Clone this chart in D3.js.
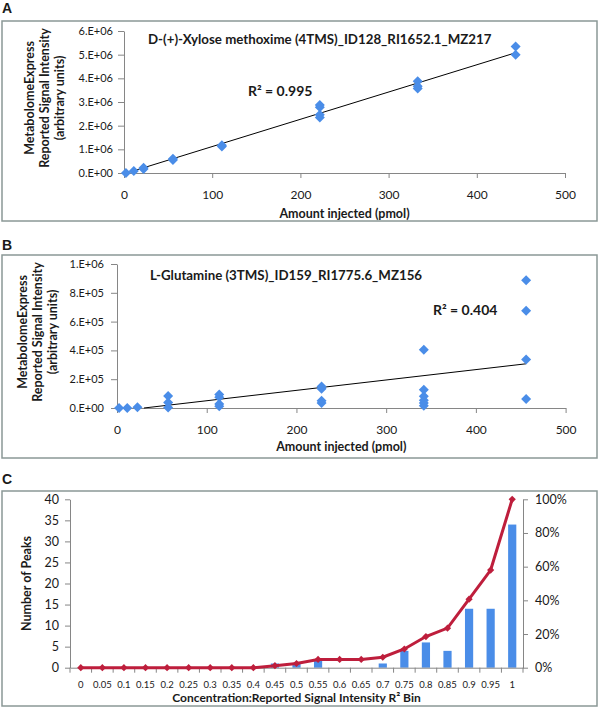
<!DOCTYPE html>
<html>
<head>
<meta charset="utf-8">
<script src="https://cdn.jsdelivr.net/npm/d3@7"></script>
<style>
  body { margin: 0; background: #fff; }
  svg { display: block; }
  text { font-family: Lato, "Open Sans", sans-serif; fill: #1a1a1a; }
</style>
</head>
<body>
<script>
// ---- Panel A data (D-(+)-Xylose methoxime) ----
var xyloseX = [2.2, 11.1, 22.2, 22.2, 55.5, 55.5, 111, 111, 222, 222, 222, 222, 333, 333, 333, 444, 444];
var xyloseY = [0, 0.08e6, 0.17e6, 0.22e6, 0.55e6, 0.6e6, 1.12e6, 1.17e6, 2.35e6, 2.46e6, 2.78e6, 2.87e6, 3.57e6, 3.67e6, 3.88e6, 5.0e6, 5.34e6];
var xyloseTrendX = [3, 444];
var xyloseTrendY = [0, 5.08e6];
var xyloseTicks = [0, 1e6, 2e6, 3e6, 4e6, 5e6, 6e6];

// ---- Panel B data (L-Glutamine) ----
var glnX = [2.3, 11.4, 22.8, 57, 57, 57, 114, 114, 114, 114, 228, 228, 228, 228, 342, 342, 342, 342, 342, 342, 456, 456, 456, 456];
var glnY = [0, 0, 0.005e6, 0.003e6, 0.038e6, 0.084e6, 0.012e6, 0.028e6, 0.074e6, 0.093e6, 0.035e6, 0.051e6, 0.134e6, 0.15e6, 0.016e6, 0.035e6, 0.053e6, 0.081e6, 0.127e6, 0.405e6, 0.062e6, 0.336e6, 0.676e6, 0.887e6];
var glnTrendX = [30, 456];
var glnTrendY = [0, 0.307e6];
var glnTicks = [0, 2e5, 4e5, 6e5, 8e5, 1e6];

var amountTicks = [0, 100, 200, 300, 400, 500];

// ---- Panel C data (R2 histogram) ----
var bins = ["0", "0.05", "0.1", "0.15", "0.2", "0.25", "0.3", "0.35", "0.4", "0.45", "0.5",
            "0.55", "0.6", "0.65", "0.7", "0.75", "0.8", "0.85", "0.9", "0.95", "1"];
var peaks = [0, 0, 0, 0, 0, 0, 0, 0, 0, 1, 1, 2, 0, 0, 1, 4, 6, 4, 14, 14, 34];
var cumulativePct = [0, 0, 0, 0, 0, 0, 0, 0, 0, 1.2, 2.5, 4.9, 4.9, 4.9, 6.2, 11.1, 18.5, 23.5, 40.7, 58.0, 100];
var peakTicks = [0, 5, 10, 15, 20, 25, 30, 35, 40];
var pctTicks = [0, 20, 40, 60, 80, 100];

var blue = "#4a8de8";
var red = "#be1e3c";
var axisGrey = "#868686";
var boxGrey = "#8b9896";

var svg = d3.select("body")
        .append("svg")
        .attr("width", 600)
        .attr("height", 708);

// Excel style scientific labels, e.g. 5.E+06
function sci(d) {
    if (d === 0) return "0.E+00";
    var e = Math.floor(Math.log10(d));
    var m = Math.round(d / Math.pow(10, e));
    return m + ".E+" + (e < 10 ? "0" : "") + e;
}

function styleAxis(g, size) {
    g.attr("font-family", null).attr("font-size", null);
    g.select(".domain").attr("stroke", axisGrey);
    g.selectAll(".tick line").attr("stroke", axisGrey);
    g.selectAll(".tick text").attr("fill", "#1a1a1a").style("font-size", size + "px");
}

function panelFrame(letter, letterY, boxTop, boxBottom) {
    svg.append("rect")
        .attr("x", 2).attr("y", boxTop)
        .attr("width", 595).attr("height", boxBottom - boxTop)
        .attr("fill", "none")
        .attr("stroke", boxGrey)
        .attr("stroke-width", 1.5);
    svg.append("text")
        .attr("x", 2).attr("y", letterY)
        .style("font-family", "'Liberation Sans', Arial, sans-serif")
        .style("font-weight", "bold")
        .style("font-size", "14px")
        .text(letter);
}

// scatter panel with trend line (panels A and B)
function scatterPanel(p) {
    panelFrame(p.letter, p.letterY, p.boxTop, p.boxBottom);

    var x = d3.scaleLinear().domain([0, 500]).range([p.left, p.right]);
    var y = d3.scaleLinear().domain([0, p.yTicks[p.yTicks.length - 1]]).range([p.bottom, p.top]);

    var gy = svg.append("g")
        .attr("transform", "translate(" + p.left + ",0)")
        .call(d3.axisLeft(y).tickValues(p.yTicks).tickFormat(sci).tickSize(6).tickSizeOuter(0).tickPadding(p.yPad));
    styleAxis(gy, 11);

    var gx = svg.append("g")
        .attr("transform", "translate(0," + p.bottom + ")")
        .call(d3.axisBottom(x).tickValues(amountTicks).tickSize(5).tickSizeOuter(0).tickPadding(12));
    styleAxis(gx, 12);

    // trend line
    svg.append("path")
        .datum(d3.zip(p.trendX, p.trendY))
        .attr("d", d3.line().x(function(d) { return x(d[0]); }).y(function(d) { return y(d[1]); }))
        .attr("fill", "none")
        .attr("stroke", "#000")
        .attr("stroke-width", 1);

    // diamonds
    svg.selectAll(null)
        .data(d3.zip(p.xs, p.ys))
        .enter()
        .append("path")
        .attr("d", d3.symbol().type(d3.symbolSquare).size(50))
        .attr("transform", function(d) { return "translate(" + x(d[0]) + "," + y(d[1]) + ") rotate(45)"; })
        .attr("fill", blue);

    svg.append("text")
        .attr("x", p.titleX).attr("y", p.titleY)
        .style("font-weight", "bold").style("font-size", "13.3px")
        .text(p.title);

    svg.append("text")
        .attr("x", p.r2X).attr("y", p.r2Y)
        .style("font-weight", "bold").style("font-size", "14px")
        .text(p.r2);

    svg.append("text")
        .attr("x", (p.left + p.right) / 2).attr("y", p.xTitleY)
        .attr("text-anchor", "middle")
        .style("font-weight", "bold").style("font-size", "12.5px")
        .text("Amount injected (pmol)");

    var yLines = ["MetabolomeExpress", "Reported Signal Intensity", "(arbitrary units)"];
    var cy = (p.top + p.bottom) / 2 - 4;
    yLines.forEach(function(s, i) {
        svg.append("text")
            .attr("transform", "translate(" + (p.yTitleX + i * 15) + "," + cy + ") rotate(-90)")
            .attr("text-anchor", "middle")
            .style("font-weight", "bold").style("font-size", "12.5px")
            .text(s);
    });
}

scatterPanel({
    letter: "A", letterY: 13, boxTop: 21, boxBottom: 221,
    left: 124, right: 565, top: 31, bottom: 173, yPad: 5,
    yTicks: xyloseTicks, xs: xyloseX, ys: xyloseY,
    trendX: xyloseTrendX, trendY: xyloseTrendY,
    title: "D-(+)-Xylose methoxime (4TMS)_ID128_RI1652.1_MZ217", titleX: 148, titleY: 44,
    r2: "R² = 0.995", r2X: 248, r2Y: 96,
    xTitleY: 218, yTitleX: 34
});

scatterPanel({
    letter: "B", letterY: 250, boxTop: 255, boxBottom: 458,
    left: 117, right: 565.6, top: 264, bottom: 408, yPad: 7,
    yTicks: glnTicks, xs: glnX, ys: glnY,
    trendX: glnTrendX, trendY: glnTrendY,
    title: "L-Glutamine (3TMS)_ID159_RI1775.6_MZ156", titleX: 150, titleY: 280,
    r2: "R² = 0.404", r2X: 433, r2Y: 315,
    xTitleY: 451, yTitleX: 27
});

// ---- Panel C: histogram of R2 bins with cumulative % line ----
panelFrame("C", 484, 491, 706);

var cLeft = 70, cRight = 523, cTop = 499.3, cBottom = 667.7;

var xBand = d3.scaleBand().domain(bins).range([cLeft, cRight]);
var yPeaks = d3.scaleLinear().domain([0, 40]).range([cBottom, cTop]);
var yPct = d3.scaleLinear().domain([0, 100]).range([cBottom, cTop]);

var barW = xBand.bandwidth() * 0.38;

svg.selectAll(".bar")
    .data(d3.zip(bins, peaks))
    .enter()
    .append("rect")
    .attr("class", "bar")
    .attr("x", function(d) { return xBand(d[0]) + (xBand.bandwidth() - barW) / 2; })
    .attr("y", function(d) { return yPeaks(d[1]); })
    .attr("width", barW)
    .attr("height", function(d) { return cBottom - yPeaks(d[1]); })
    .attr("fill", blue);

var gl = svg.append("g")
    .attr("transform", "translate(" + cLeft + ",0)")
    .call(d3.axisLeft(yPeaks).tickValues(peakTicks).tickSize(5).tickSizeOuter(0).tickPadding(6));
styleAxis(gl, 12.5);

var gr = svg.append("g")
    .attr("transform", "translate(" + cRight + ",0)")
    .call(d3.axisRight(yPct).tickValues(pctTicks).tickSize(5).tickSizeOuter(0).tickPadding(7)
        .tickFormat(function(d) { return d + "%"; }));
styleAxis(gr, 12.5);

var gb = svg.append("g")
    .attr("transform", "translate(0," + cBottom + ")")
    .call(d3.axisBottom(xBand).tickSize(0).tickPadding(14));
styleAxis(gb, 9.5);

// category boundary ticks
svg.selectAll(".btick")
    .data(bins.concat(["end"]))
    .enter()
    .append("line")
    .attr("class", "btick")
    .attr("x1", function(d, i) { return cLeft + i * xBand.step(); })
    .attr("x2", function(d, i) { return cLeft + i * xBand.step(); })
    .attr("y1", cBottom)
    .attr("y2", cBottom + 5)
    .attr("stroke", axisGrey);

// cumulative line
var cumPts = d3.zip(bins, cumulativePct);
svg.append("path")
    .datum(cumPts)
    .attr("d", d3.line()
        .x(function(d) { return xBand(d[0]) + xBand.bandwidth() / 2; })
        .y(function(d) { return yPct(d[1]); }))
    .attr("fill", "none")
    .attr("stroke", red)
    .attr("stroke-width", 3);

svg.selectAll(".cm")
    .data(cumPts)
    .enter()
    .append("path")
    .attr("class", "cm")
    .attr("d", d3.symbol().type(d3.symbolSquare).size(26))
    .attr("transform", function(d) {
        return "translate(" + (xBand(d[0]) + xBand.bandwidth() / 2) + "," + yPct(d[1]) + ") rotate(45)";
    })
    .attr("fill", red);

svg.append("text")
    .attr("x", (cLeft + cRight) / 2).attr("y", 702)
    .attr("text-anchor", "middle")
    .style("font-weight", "bold").style("font-size", "12px")
    .text("Concentration:Reported Signal Intensity R² Bin");

svg.append("text")
    .attr("transform", "translate(31," + ((cTop + cBottom) / 2) + ") rotate(-90)")
    .attr("text-anchor", "middle")
    .style("font-weight", "bold").style("font-size", "12.5px")
    .text("Number of Peaks");
</script>
</body>
</html>
